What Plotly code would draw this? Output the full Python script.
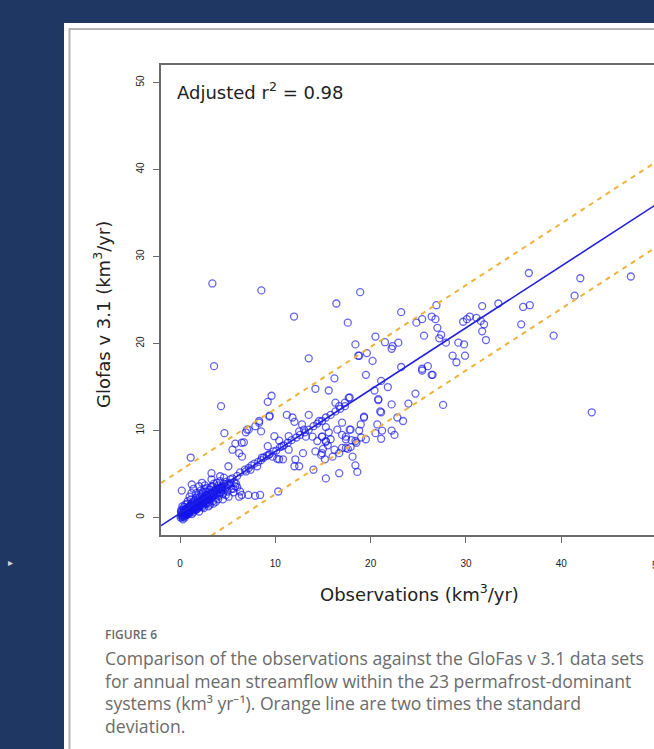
import plotly.graph_objects as go

# ---------------- data ----------------
obs = [
    # outliers / upper area
    3.39, 8.53, 11.96, 16.4, 17.6, 3.57, 13.5, 16.2, 14.2, 15.6, 9.6, 9.2, 4.3,
    9.37, 11.2, 12.0, 8.29, 7.03, 4.65, 6.47, 1.12, 3.3, 4.2, 0.18, 1.23, 5.07,
    10.3, 14.0, 15.3, 6.47, 7.17, 7.87, 8.4, 12.9, 12.1, 10.8,
    19.5, 21.1, 21.8, 25.4, 26.5, 24.7, 23.96, 27.6, 22.2, 20.8, 21.1, 17.8, 16.3,
    19.3, 22.8, 23.4, 18.96, 20.7, 17.0, 18.8, 17.8, 21.2, 20.5, 22.2, 22.5, 21.1,
    17.4, 18.0, 18.5, 19.5, 19.0, 17.0, 17.6, 17.9, 14.9, 15.3, 15.8, 16.2, 14.8, 15.2, 15.5, 15.0,
    16.7, 18.4, 18.6,
    36.6, 42.0, 41.4, 47.3, 18.9, 23.2, 26.9, 31.7, 33.4, 36.0, 36.7, 35.8, 39.2, 43.2,
    25.4, 24.8, 26.4, 26.8, 27.0, 27.4, 27.2, 25.6, 29.7, 30.1, 30.4, 31.1, 31.55, 31.9,
    31.7, 32.1, 29.2, 29.8, 28.6, 29.0, 29.9, 27.9, 20.5, 18.4, 18.8, 19.6, 20.2, 21.5,
    22.2, 22.3, 22.9, 23.2, 25.4, 26.0, 26.4, 20.4, 20.8, 21.0, 17.7, 16.7, 17.3, 19.3,
    18.7, 11.8, 9.4, 8.3, 7.2, 6.9, 7.9, 8.5, 5.5, 5.8, 6.7, 6.2, 6.5, 6.2, 12.5, 12.0,
    10.2, 10.4, 17.4, 17.9, 17.0, 16.5, 17.4, 18.1, 18.4,
    12.8, 13.5, 13.0, 13.2, 12.5, 13.9, 14.6, 15.3, 14.9, 15.6, 14.4, 15.3,
    14.2, 14.9, 16.0, 16.7, 10.4, 11.4, 9.9, 10.7, 9.2, 11.4, 8.6, 9.3, 9.7, 8.1, 7.4, 6.9,
    # band along the fitted line
    5.5, 6.0, 6.3, 6.8, 7.2, 7.5, 7.8, 8.2, 8.5, 8.8, 9.1, 9.4, 9.8, 10.1, 10.5, 10.9,
    11.3, 11.7, 12.2, 12.6, 13.1, 13.5, 14.0, 14.4, 14.9, 15.3, 15.8, 16.3, 16.8, 17.3,
    # dense cluster near the origin
    0.1, 0.2, 0.3, 0.4, 0.5, 0.6, 0.7, 0.8, 0.9, 1.0,
    0.15, 0.25, 0.35, 0.45, 0.55, 0.65, 0.75, 0.85, 0.95, 1.05,
    1.1, 1.2, 1.3, 1.4, 1.5, 1.6, 1.7, 1.8, 1.9, 2.0,
    1.15, 1.25, 1.35, 1.45, 1.55, 1.65, 1.75, 1.85, 1.95, 2.05,
    2.1, 2.2, 2.3, 2.4, 2.5, 2.6, 2.7, 2.8, 2.9, 3.0,
    2.15, 2.25, 2.35, 2.45, 2.55, 2.65, 2.75, 2.85, 2.95, 3.05,
    3.1, 3.2, 3.3, 3.4, 3.5, 3.6, 3.7, 3.8, 3.9, 4.0,
    3.15, 3.25, 3.45, 3.55, 3.75, 3.85, 4.1, 4.2, 4.3, 4.4,
    4.5, 4.6, 4.7, 4.8, 4.9, 5.0, 5.2, 5.4, 5.6, 5.8,
    0.05, 0.3, 0.5, 0.2, 0.1, 0.4, 0.6, 0.8, 1.0, 1.2,
    1.4, 1.7, 2.0, 2.3, 2.6, 2.0, 2.5, 3.0, 3.5, 4.0,
    4.5, 4.2, 4.8, 5.3, 5.7, 6.0, 6.3, 5.1, 4.6, 3.3,
    0.12, 0.28, 0.42, 0.58, 0.72, 0.88, 1.02, 1.18, 1.32, 1.48,
    1.62, 1.78, 1.92, 2.08, 2.22, 2.38, 2.52, 2.68, 2.82, 2.98,
    3.12, 3.28, 3.42, 3.58, 3.72, 3.88, 4.02, 4.18, 4.32, 4.48,
    0.22, 0.48, 0.78, 1.08, 1.38, 1.68, 1.98, 2.28, 2.58, 2.88,
    3.18, 3.48, 3.78, 4.08, 4.38, 4.68, 4.98, 5.28, 5.58, 5.88,
    0.32, 0.62, 0.92, 1.22, 1.52, 1.82, 2.12, 2.42, 2.72, 3.02,
]
glofas = [
    26.9, 26.1, 23.1, 24.6, 22.4, 17.4, 18.3, 16.0, 14.8, 14.6, 14.0, 13.3, 12.8,
    11.6, 11.8, 11.0, 10.9, 10.1, 9.7, 8.6, 6.9, 5.1, 4.75, 3.1, 3.8, 5.9,
    3.0, 5.5, 4.5, 2.6, 2.6, 2.5, 2.6, 7.4, 6.7, 6.7,
    16.4, 15.7, 15.0, 16.9, 16.4, 14.25, 13.1, 12.95, 13.0, 13.5, 12.1, 13.8, 13.2,
    11.5, 11.5, 11.1, 10.7, 10.7, 10.9, 10.0, 10.1, 10.0, 9.7, 10.0, 9.5, 9.05,
    9.3, 8.9, 8.6, 9.0, 9.2, 8.0, 7.9, 8.1, 9.3, 8.7, 9.0, 7.8, 7.2, 6.7, 8.3, 7.9,
    5.1, 6.0, 5.25,
    28.1, 27.5, 25.5, 27.7, 25.9, 23.6, 24.4, 24.3, 24.6, 24.2, 24.4, 22.2, 20.9, 12.1,
    22.8, 22.4, 23.1, 22.8, 21.8, 21.0, 20.6, 20.9, 22.5, 22.8, 23.1, 22.95, 22.6, 22.2,
    21.4, 20.4, 20.1, 19.9, 18.6, 17.85, 18.6, 20.1, 20.8, 19.9, 18.6, 18.9, 18.0, 20.15,
    19.4, 19.7, 20.1, 17.3, 17.1, 17.4, 16.4, 14.6, 13.6, 12.2, 13.75, 12.8, 13.2, 11.6,
    18.6, 11.5, 11.7, 11.1, 10.1, 9.8, 10.5, 9.9, 7.8, 8.5, 8.65, 7.4, 7.0, 2.4, 5.9, 5.9,
    6.75, 6.7, 9.0, 10.1, 9.5, 10.1, 8.0, 7.0, 8.8,
    10.7, 11.8, 10.1, 9.3, 9.9, 9.3, 11.1, 10.4, 9.3, 9.8, 8.8, 8.8,
    7.6, 7.4, 7.0, 7.4, 8.85, 9.35, 9.35, 8.2, 8.2, 7.8, 6.9, 7.2, 7.0, 5.9, 5.5, 5.3,
    4.5, 4.8, 5.2, 5.5, 5.7, 6.0, 6.2, 6.4, 6.6, 6.9, 7.1, 7.3, 7.6, 7.7, 8.1, 8.3,
    8.6, 8.9, 9.2, 9.5, 9.8, 10.1, 10.5, 10.8, 11.1, 11.5, 11.8, 12.2, 12.5, 12.8,
    0.2, 0.5, 0.1, 0.8, 0.4, 1.0, 0.3, 0.7, 1.2, 0.5,
    0.9, 1.3, 0.6, 0.2, 1.5, 0.9, 1.6, 0.4, 0.9, 1.4,
    0.8, 1.6, 1.1, 0.6, 1.9, 1.3, 0.9, 1.7, 2.2, 1.2,
    2.1, 0.4, 1.8, 1.4, 0.9, 2.3, 1.5, 1.1, 2.6, 1.8,
    2.4, 1.5, 2.0, 2.9, 1.7, 2.3, 3.0, 2.0, 2.6, 1.8,
    3.1, 2.7, 1.2, 2.2, 3.3, 1.6, 2.5, 3.4, 2.9, 2.4,
    3.2, 2.1, 2.8, 3.6, 2.5, 3.1, 2.2, 3.4, 2.8, 3.7,
    1.5, 3.5, 1.9, 3.9, 1.8, 4.0, 2.5, 3.3, 2.9, 3.6,
    2.7, 3.9, 3.2, 2.6, 3.5, 3.0, 3.8, 3.3, 2.9, 3.6,
    0.0, -0.2, 0.0, 0.3, 0.7, 1.2, 0.6, 1.9, 2.4, 2.8,
    3.3, 2.8, 3.6, 4.0, 3.7, 0.7, 1.1, 1.3, 1.6, 2.1,
    2.1, 4.2, 4.1, 4.4, 4.0, 3.5, 3.0, 2.4, 4.6, 4.4,
    0.6, 0.3, 0.9, 0.5, 1.1, 0.7, 1.3, 0.9, 1.5, 1.1,
    1.7, 1.3, 1.9, 1.5, 2.1, 1.7, 2.3, 1.9, 2.5, 2.1,
    2.7, 2.3, 2.9, 2.5, 3.1, 2.7, 3.3, 2.9, 3.5, 3.1,
    0.0, 0.2, 0.5, 0.8, 1.0, 1.2, 1.4, 1.7, 2.0, 2.2,
    2.5, 2.7, 3.0, 3.2, 3.4, 3.6, 3.8, 4.0, 3.3, 3.9,
    0.4, 0.4, 0.6, 0.7, 1.0, 1.0, 1.3, 1.4, 1.6, 1.7,
]

fit_intercept = 0.5
fit_slope = 0.71
two_sd = 4.9
line_x = [-2, 52]

tick_vals = [0, 10, 20, 30, 40, 50]
tick_text = ["0", "10", "20", "30", "40", "50"]

caption_head = "FIGURE 6"
caption_lines = [
    "Comparison of the observations against the GloFas v 3.1 data sets",
    "for annual mean streamflow within the 23 permafrost-dominant",
    "systems (km\u00b3 yr\u207b\u00b9). Orange line are two times the standard",
    "deviation.",
]

# ---------------- geometry helpers (pixels -> paper) ----------------
W, H = 654, 749
L, T, B = 161, 65, 535
PW, PH = W - L, B - T
X_PER_UNIT = 9.53


def px(x):
    return (x - L) / PW


def py(y):
    return (B - y) / PH


fit_y = [fit_intercept + fit_slope * v for v in line_x]
up_y = [v + two_sd for v in fit_y]
lo_y = [v - two_sd for v in fit_y]

fig = go.Figure()
fig.add_trace(go.Scatter(
    x=obs, y=glofas, mode="markers",
    marker=dict(symbol="circle-open", size=7, color="rgba(20,20,235,0.66)",
                line=dict(width=1.3, color="rgba(20,20,235,0.66)")),
    showlegend=False, hoverinfo="skip"))
for yy in (up_y, lo_y):
    fig.add_trace(go.Scatter(x=line_x, y=yy, mode="lines",
                             line=dict(color="#f0b23c", width=2, dash="5px,5px"),
                             showlegend=False, hoverinfo="skip"))
fig.add_trace(go.Scatter(x=line_x, y=fit_y, mode="lines",
                         line=dict(color="#2020e0", width=1.6),
                         showlegend=False, hoverinfo="skip"))

tickfont = dict(family="Liberation Sans", size=10, color="#222")
fig.update_xaxes(range=[-2, -2 + PW / X_PER_UNIT], tickvals=tick_vals, ticktext=tick_text,
                 showgrid=False, zeroline=False, showline=True, mirror=True,
                 linecolor="#6a6a6a", linewidth=1.5, ticks="outside", ticklen=6,
                 tickcolor="#6a6a6a", tickfont=tickfont, ticklabelstandoff=12)
fig.update_yaxes(range=[-2, 52], tickvals=tick_vals, ticktext=tick_text,
                 showgrid=False, zeroline=False, showline=True, mirror=False,
                 linecolor="#6a6a6a", linewidth=1.5, ticks="outside", ticklen=6,
                 tickcolor="#6a6a6a", tickfont=tickfont, tickangle=-90,
                 ticklabelstandoff=5)

shapes = [
    dict(type="rect", xref="paper", yref="paper", x0=px(64), x1=px(700),
         y0=py(780), y1=py(23), fillcolor="white", line=dict(width=0), layer="below"),
    dict(type="rect", xref="paper", yref="paper", x0=px(69.5), x1=px(720),
         y0=py(800), y1=py(29), fillcolor="rgba(0,0,0,0)",
         line=dict(width=2, color="#b4b4b4"), layer="below"),
]

title_font = dict(family="DejaVu Sans", size=18, color="#222")
ann = [
    dict(x=px(175), y=py(91), xref="paper", yref="paper", xanchor="left", yanchor="middle",
         text="Adjusted r<sup>2</sup> = 0.98", showarrow=False, font=title_font),
    dict(x=px(419), y=py(593), xref="paper", yref="paper", xanchor="center", yanchor="middle",
         text="Observations (km<sup>3</sup>/yr)", showarrow=False, font=title_font),
    dict(x=px(102), y=py(315), xref="paper", yref="paper", xanchor="center", yanchor="middle",
         text="Glofas v 3.1 (km<sup>3</sup>/yr)", textangle=-90, showarrow=False,
         font=title_font),
    dict(x=px(181 + 50 * X_PER_UNIT), y=py(565), xref="paper", yref="paper",
         xanchor="center", yanchor="middle",
         text="50", showarrow=False, font=tickfont),
    dict(x=px(103), y=py(634), xref="paper", yref="paper", xanchor="left", yanchor="middle",
         text=caption_head, showarrow=False,
         font=dict(family="Open Sans", size=12, color="#6a6a6a", weight=600)),
    dict(x=px(6), y=py(562), xref="paper", yref="paper", xanchor="left", yanchor="middle",
         text="\u25b8", showarrow=False, font=dict(size=10, color="rgba(255,255,255,0.8)")),
]
for i, line in enumerate(caption_lines):
    ann.append(dict(x=px(103), y=py(658 + i * 22.7), xref="paper", yref="paper",
                    xanchor="left", yanchor="middle", text=line, showarrow=False,
                    font=dict(family="Open Sans", size=17.6, color="#6b6b6b")))

fig.update_layout(
    width=W, height=H, autosize=False,
    margin=dict(l=L, r=0, t=T, b=H - B, pad=0),
    paper_bgcolor="#1f3763", plot_bgcolor="white",
    shapes=shapes, annotations=ann, showlegend=False,
)

fig.write_html("out.html")
